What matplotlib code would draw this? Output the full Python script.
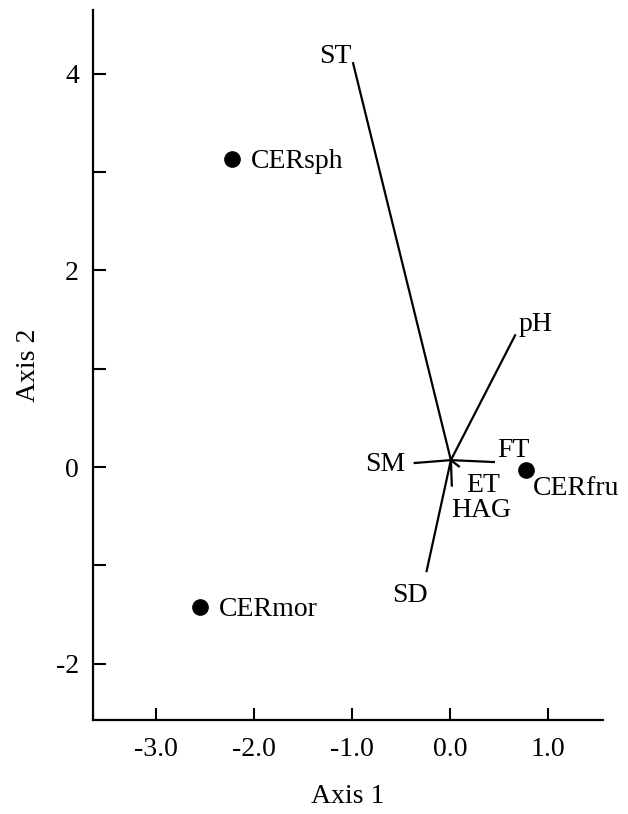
import matplotlib
matplotlib.use("Agg")
import matplotlib.pyplot as plt
from matplotlib.ticker import FixedLocator, FixedFormatter

plt.rcParams['font.family'] = ['Liberation Serif', 'DejaVu Serif']
plt.rcParams['axes.unicode_minus'] = False

# Species scores
species = ["CERsph", "CERmor", "CERfru"]
sp_x = [-2.22, -2.55, 0.78]
sp_y = [3.13, -1.42, -0.03]

# Environmental vectors (origin and tips)
origin = (0.01, 0.07)
env = ["ST", "pH", "SD", "SM", "FT", "ET", "HAG"]
env_x = [-0.99, 0.67, -0.24, -0.37, 0.46, 0.10, 0.02]
env_y = [4.12, 1.35, -1.07, 0.04, 0.05, 0.00, -0.20]

x_ticks = [-3.0, -2.0, -1.0, 0.0, 1.0]
x_tick_labels = ["-3.0", "-2.0", "-1.0", "0.0", "1.0"]
y_ticks = [-2, 0, 2, 4]
y_tick_labels = ["-2", "0", "2", "4"]
y_minor = [-1, 1, 3]

fig = plt.figure(figsize=(6.28, 8.14), dpi=100)
ax = fig.add_axes([0.148, 0.1155, 0.812, 0.8722])

for ex, ey in zip(env_x, env_y):
    ax.plot([origin[0], ex], [origin[1], ey], color='black', lw=1.6, solid_capstyle='butt')

ax.plot(sp_x, sp_y, 'o', color='black', markersize=11)

fs = 20
# species labels (offsets in pixels)
sp_offsets = [(19, 1, 'left'), (19, 0, 'left'), (6, -16, 'left')]
for name, x, y, (dx, dy, ha) in zip(species, sp_x, sp_y, sp_offsets):
    ax.annotate(name, (x, y), xytext=(dx, dy), textcoords='offset pixels',
                ha=ha, va='center_baseline', fontsize=fs)

env_offsets = {
    "ST": (-1, 9, 'right'),
    "pH": (3, 13, 'left'),
    "SD": (-16, -20, 'center'),
    "SM": (-8, 2, 'right'),
    "FT": (2, 15, 'left'),
    "ET": (6, -15, 'left'),
    "HAG": (-1, -21, 'left'),
}
for name, x, y in zip(env, env_x, env_y):
    dx, dy, ha = env_offsets[name]
    ax.annotate(name, (x, y), xytext=(dx, dy), textcoords='offset pixels',
                ha=ha, va='center_baseline', fontsize=fs)

ax.set_xlim(-3.64, 1.56)
ax.set_ylim(-2.574, 4.65)

ax.xaxis.set_major_locator(FixedLocator(x_ticks))
ax.xaxis.set_major_formatter(FixedFormatter(x_tick_labels))
ax.yaxis.set_major_locator(FixedLocator(y_ticks))
ax.yaxis.set_major_formatter(FixedFormatter(y_tick_labels))
ax.yaxis.set_minor_locator(FixedLocator(y_minor))

ax.tick_params(axis='both', which='both', direction='in', length=9, width=1.5,
               labelsize=fs, pad=12)
ax.tick_params(axis='y', pad=10)

for s in ['top', 'right']:
    ax.spines[s].set_visible(False)
for s in ['left', 'bottom']:
    ax.spines[s].set_linewidth(1.6)

ax.set_xlabel("Axis 1", fontsize=fs, labelpad=16)
ax.set_ylabel("Axis 2", fontsize=fs, labelpad=11)

fig.savefig("out.png", dpi=100)
